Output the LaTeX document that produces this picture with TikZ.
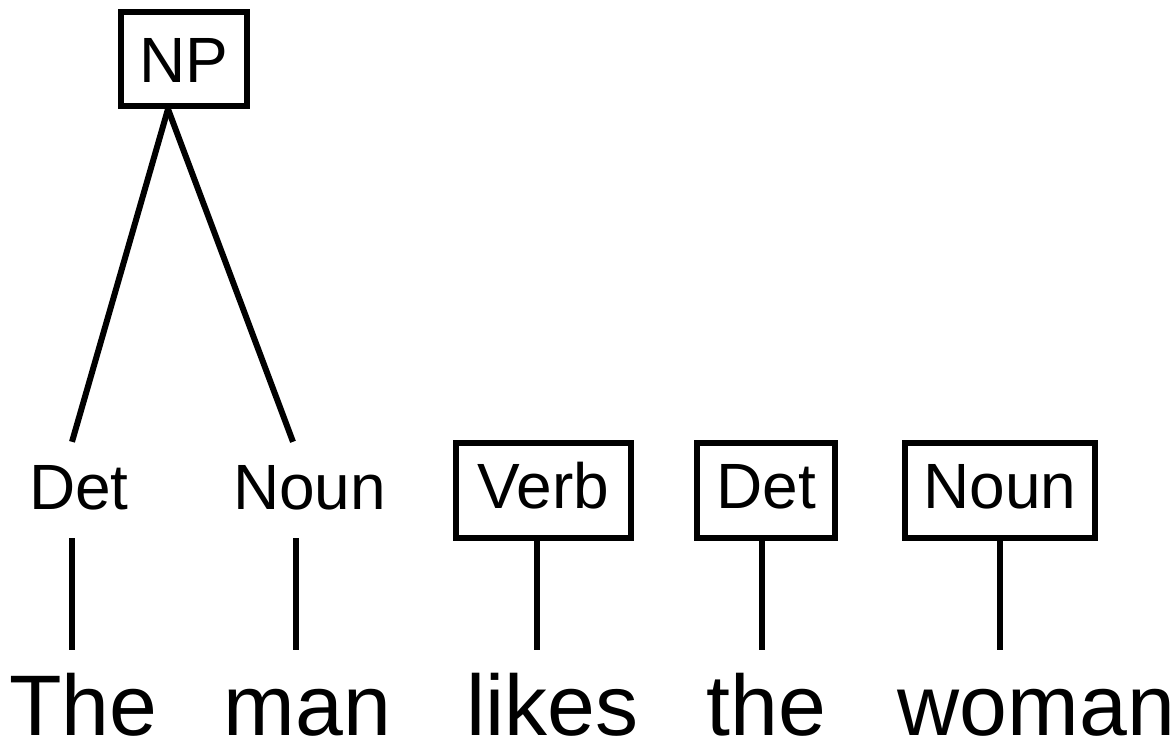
\documentclass[tikz,border=0pt]{standalone}
\usepackage{fontspec}
\setmainfont{Liberation Sans}
\begin{document}
\begin{tikzpicture}[x=1pt,y=-1pt,
  lab/.style={font=\fontsize{64}{70}\selectfont, inner sep=0pt},
  catbox/.style={lab, draw, line width=6pt, text height=46pt, text depth=10pt, minimum height=94.5pt},
  bare/.style={lab, anchor=base, text height=46pt, text depth=8pt, inner ysep=21pt},
  word/.style={font=\fontsize{86}{96}\selectfont, inner sep=0pt, text height=85pt, text depth=0pt, anchor=base},
  edge/.style={line width=6pt}]
\useasboundingbox[fill=white] (0,0) rectangle (1173,741);
% category nodes
\node[catbox, minimum width=126.5pt, minimum height=93.7pt, text depth=0pt] (NP) at (183.75,59.2) {NP};
\node[bare] (det1) at (79,509) {Det};
\node[bare] (noun1) at (309.5,509) {Noun};
\node[catbox, minimum width=175pt] (verb) at (543.5,490.25) {Verb};
\node[catbox, minimum width=138pt] (det2) at (766,490.25) {Det};
\node[catbox, minimum width=190pt] (noun2) at (1000,490.5) {Noun};
% words
\node[word] (w1) at (83.5,735) {The};
\node[word] (w2) at (307.5,735) {man};
\node[word] (w3) at (552.5,735) {likes};
\node[word] (w4) at (766.5,735) {the};
\node[word] (w5) at (1036.5,735) {woman};
% x positions of connectors
\coordinate (apx) at (168,0);
\coordinate (x1) at (72,0);
\coordinate (x2t) at (293,0);
\coordinate (x2) at (295.5,0);
\coordinate (x3) at (537,0);
\coordinate (x4) at (762,0);
\coordinate (x5) at (1000,0);
% connectors
\draw[edge] (NP.south -| apx) -- (det1.north -| x1);
\draw[edge] (NP.south -| apx) -- (noun1.north -| x2t);
\draw[edge] (det1.south -| x1) -- (w1.north -| x1);
\draw[edge] (noun1.south -| x2) -- (w2.north -| x2);
\draw[edge] (verb.south -| x3) -- (w3.north -| x3);
\draw[edge] (det2.south -| x4) -- (w4.north -| x4);
\draw[edge] (noun2.south -| x5) -- (w5.north -| x5);
\end{tikzpicture}
\end{document}
